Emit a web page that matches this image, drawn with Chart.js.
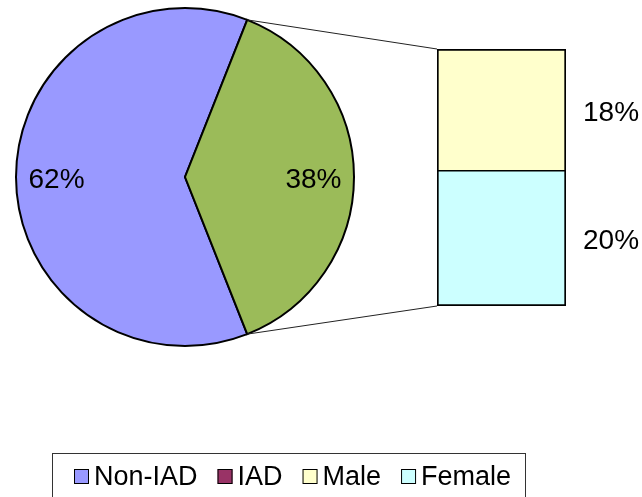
<!doctype html>
<html lang="en">
  <head>
    <meta charset="utf-8">
    <title>Non-IAD / IAD</title>
    <script src="https://cdn.jsdelivr.net/npm/chart.js"></script>
    <style>
        html, body { margin: 0; padding: 0; background: #fff; overflow: hidden; }
        #wrap { position: relative; width: 642px; height: 497px; }
        #pieChart { position: absolute; left: 0; top: 0; }
        #barChart { position: absolute; left: 437px; top: 49px; }
    </style>
  </head>
  <body>
    <div id="wrap">
        <canvas id="pieChart" width="642" height="497"></canvas>
        <canvas id="barChart" width="129" height="257"></canvas>
    </div>

    <script>
        // data
        const pieLabels = ['Non-IAD', 'IAD']
        const pieValues = [62, 38]
        const pieColors = ['#9999FF', '#9BBB59']

        const barLabels = ['Male', 'Female']
        const barValues = [18, 20]
        const barColors = ['#FFFFCC', '#CCFFFF']

        const legendLabels = ['Non-IAD', 'IAD', 'Male', 'Female']
        const legendColors = ['#9999FF', '#993366', '#FFFFCC', '#CCFFFF']

        const Font = '"Liberation Sans", Arial, sans-serif'
        const BarLeft = 437, BarTop = 49

        // stacked bar, bottom segment first
        const BarChart = new Chart(document.getElementById('barChart'), {
            type: 'bar',
            data: {
                labels: [''],
                datasets: barLabels.map((l, i) => ({
                    label: l,
                    data: [barValues[i]],
                    backgroundColor: barColors[i],
                    borderColor: '#000',
                    // shared edge between the two segments kept thin
                    borderWidth: i === 0 ? { top: 2, left: 2, right: 2, bottom: 1 } : { top: 1, left: 2, right: 2, bottom: 2 },
                    borderSkipped: false,
                    barPercentage: 1,
                    categoryPercentage: 1
                })).reverse()
            },
            options: {
                responsive: false,
                animation: false,
                plugins: { legend: { display: false }, tooltip: { enabled: false } },
                scales: {
                    x: { stacked: true, display: false },
                    y: { stacked: true, display: false, min: 0, max: barValues.reduce((a, b) => a + b, 0) }
                }
            }
        })

        const Extras = {
            id: 'extras',
            afterDraw(chart) {
                const ctx = chart.ctx
                const arc = chart.getDatasetMeta(0).data[1]
                ctx.save()

                // connector lines from the IAD slice to the bar
                const top = BarChart.getDatasetMeta(1).data[0], bottom = BarChart.getDatasetMeta(0).data[0]
                const bx = BarLeft + top.x - top.width / 2
                ctx.strokeStyle = '#222'
                ctx.lineWidth = 1
                ctx.beginPath()
                ctx.moveTo(arc.x + arc.outerRadius * Math.cos(arc.startAngle), arc.y + arc.outerRadius * Math.sin(arc.startAngle))
                ctx.lineTo(bx, BarTop + top.y)
                ctx.moveTo(arc.x + arc.outerRadius * Math.cos(arc.endAngle), arc.y + arc.outerRadius * Math.sin(arc.endAngle))
                ctx.lineTo(bx, BarTop + bottom.base)
                ctx.stroke()

                // pie labels
                ctx.fillStyle = '#000'
                ctx.font = '28px ' + Font
                ctx.textAlign = 'center'
                ctx.textBaseline = 'middle'
                chart.getDatasetMeta(0).data.forEach((el, i) => {
                    const mid = (el.startAngle + el.endAngle) / 2
                    const r = el.outerRadius * 0.76
                    ctx.fillText(pieValues[i] + '%', el.x + r * Math.cos(mid), el.y + r * Math.sin(mid) + 3)
                })

                // bar labels
                ctx.textAlign = 'left'
                BarChart.data.datasets.forEach((d, i) => {
                    const el = BarChart.getDatasetMeta(i).data[0]
                    ctx.fillText(d.data[0] + '%', BarLeft + el.x + el.width / 2 + 17, BarTop + (el.y + el.base) / 2 + 3)
                })

                // legend
                ctx.font = '27px ' + Font
                ctx.strokeStyle = '#333'
                ctx.lineWidth = 1
                ctx.strokeRect(52.5, 453.5, 473, 60)
                let x = 74
                const cy = 477
                legendLabels.forEach((l, i) => {
                    ctx.fillStyle = legendColors[i]
                    ctx.fillRect(x, cy - 8, 15, 15)
                    ctx.strokeStyle = '#000'
                    ctx.strokeRect(x + 0.5, cy - 7.5, 14, 14)
                    ctx.fillStyle = '#000'
                    ctx.fillText(l, x + 20, cy + 1)
                    x += 20 + ctx.measureText(l).width + 20
                })
                ctx.restore()
            }
        }

        new Chart(document.getElementById('pieChart'), {
            type: 'pie',
            data: {
                labels: pieLabels,
                datasets: [
                    {
                        data: pieValues,
                        backgroundColor: pieColors,
                        borderColor: '#000',
                        borderWidth: 2,
                        borderJoinStyle: 'miter'
                    }
                ]
            },
            options: {
                responsive: false,
                animation: false,
                rotation: 158.4,
                layout: { padding: { left: 15, top: 7, right: 287, bottom: 150 } },
                plugins: { legend: { display: false }, tooltip: { enabled: false } }
            },
            plugins: [Extras]
        })
    </script>
  </body>
</html>
